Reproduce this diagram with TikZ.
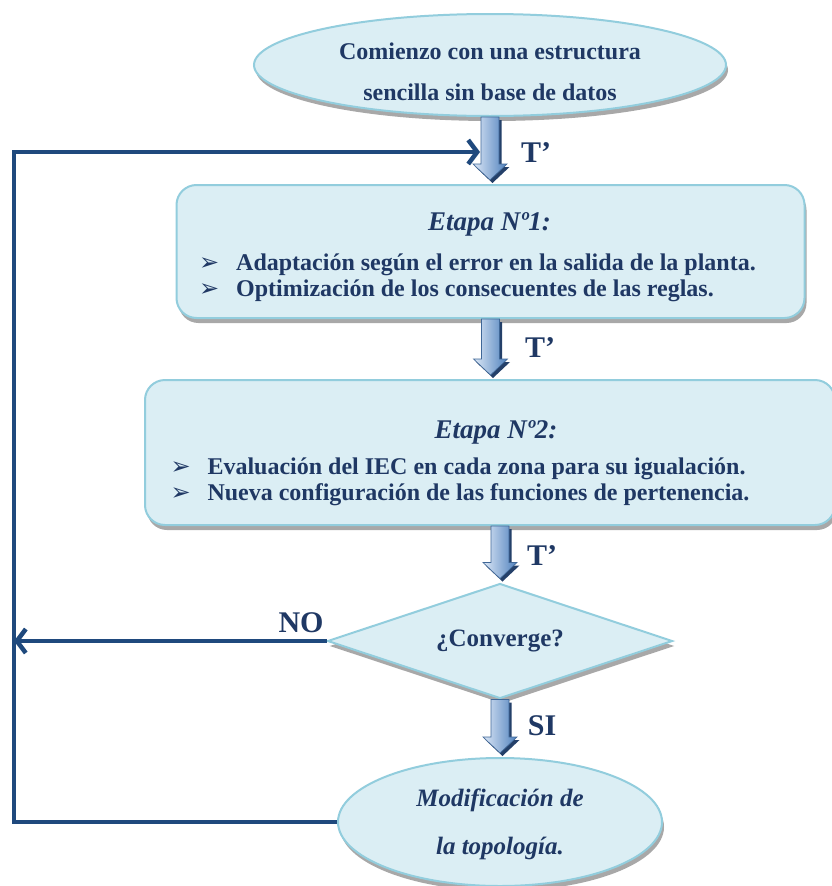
\documentclass[tikz,border=0pt]{standalone}
\usepackage{fontspec}
\setmainfont{Liberation Serif}
\newfontfamily\symfont{DejaVu Sans}
\usetikzlibrary{shapes.geometric,shadows,arrows.meta,calc}

\definecolor{txtblue}{RGB}{31,56,100}
\definecolor{lineblue}{RGB}{31,73,125}
\definecolor{boxfill}{RGB}{219,238,244}
\definecolor{boxedge}{RGB}{146,205,221}
\definecolor{arrlight}{RGB}{220,231,246}
\definecolor{arrblue}{RGB}{79,129,189}
\definecolor{arrdark}{RGB}{36,64,105}

\tikzset{
  shapebase/.style={fill=boxfill, draw=boxedge, line width=2pt, text=txtblue,
    inner sep=0pt, font=\bfseries\fontsize{24}{26}\selectfont,
    drop shadow={shadow xshift=2pt, shadow yshift=-5pt, fill=gray!75, opacity=0.9}},
  startend/.style={shapebase, ellipse},
  stagebox/.style={shapebase, rectangle, rounded corners=20pt},
  decision/.style={shapebase, diamond, aspect=3},
  loopline/.style={draw=lineblue, line width=4.5pt, -{Straight Barb[length=9pt,width=24pt]}},
  steplabel/.style={text=txtblue, inner sep=0pt, font=\bfseries\fontsize{30}{30}\selectfont}
}

% bullet and title of the stage boxes
\newcommand{\bul}{\makebox[37pt][l]{\symfont\fontsize{24}{24}\selectfont ➢}}
% #1 strut height, #2 shift to the right (twice the offset), #3 title
\newcommand{\stagetitle}[3]{\multicolumn{1}{c}{\hspace*{#2}\rule{0pt}{#1}\itshape\fontsize{27}{27}\selectfont #3}}

% shaded block arrow from #1 down to #2
\newcommand{\blockarrow}[2]{%
  \fill[arrdark] let \p1=(#1), \p2=(#2) in
    (\x1-6.5pt,\y1-3pt) -- (\x1+11.5pt,\y1-3pt) -- (\x1+11.5pt,\y2+13pt)
    -- (\x1+19.5pt,\y2+13pt) -- (\x1+2.5pt,\y2-3pt) -- (\x1-14.5pt,\y2+13pt)
    -- (\x1-6.5pt,\y2+13pt) -- cycle;
  \shade[left color=arrlight, right color=arrblue, draw=arrblue!80!black, line width=0.6pt]
    let \p1=(#1), \p2=(#2) in
    (\x1-9pt,\y1) -- (\x1+9pt,\y1) -- (\x1+9pt,\y2+16pt)
    -- (\x1+17pt,\y2+16pt) -- (\x1,\y2) -- (\x1-17pt,\y2+16pt)
    -- (\x1-9pt,\y2+16pt) -- cycle;
}

\begin{document}
\begin{tikzpicture}[x=1pt,y=-1pt]

\path[use as bounding box, fill=white] (0,0) rectangle (831,886);

% Start / end ellipses
\node[startend, minimum width=472pt, minimum height=102pt, align=center,
  font=\bfseries\fontsize{24}{41}\selectfont] (start) at (490,65)
  {\rule{0pt}{30pt}Comienzo con una estructura\\sencilla sin base de datos};

\node[startend, minimum width=324pt, minimum height=128pt, align=center,
  font=\bfseries\itshape\fontsize{25}{48}\selectfont] (modif) at (500,822)
  {\rule{0pt}{22pt}Modificación de\\la topología.};

% Stage boxes
\node[stagebox, minimum width=628pt, minimum height=133pt] (st1) at (490.5,251.5)
  {\begin{tabular}{@{}l@{}}
   \stagetitle{32pt}{24pt}{Etapa Nº1:}\\[14pt]
   \bul Adaptación según el error en la salida de la planta.\\
   \bul Optimización de los consecuentes de las reglas.
   \end{tabular}\rule{26pt}{0pt}};

\node[stagebox, minimum width=690pt, minimum height=145pt] (st2) at (490,452.5)
  {\begin{tabular}{@{}l@{}}
   \stagetitle{42pt}{72pt}{Etapa Nº2:}\\[10pt]
   \bul Evaluación del IEC en cada zona para su igualación.\\
   \bul Nueva configuración de las funciones de pertenencia.
   \end{tabular}\rule{60pt}{0pt}};

% Decision
\node[decision, minimum width=345pt, minimum height=115pt,
  font=\bfseries\fontsize{25}{25}\selectfont] (conv) at (500,641) {¿Converge?};

% Block arrows
\blockarrow{start.south}{[yshift=4pt]st1.north}
\blockarrow{st1.south}{[yshift=4pt]st2.north}
\blockarrow{conv.north |- st2.south}{[yshift=4pt]conv.north}
\blockarrow{conv.south}{[yshift=4pt]modif.north}

\node[steplabel] (t1) at (536,153) {T’};
\node[steplabel] (t2) at (540,348) {T’};
\node[steplabel] (t3) at (542,556) {T’};
\node[steplabel] (si) at (542,726) {SI};
\node[steplabel] (no) at (301,623) {NO};

% Feedback loop
\coordinate (leftx) at (14,0);
\coordinate (fbin) at (480,152);
\draw[loopline] (modif.west) -| (leftx |- fbin) -- (fbin);
\draw[loopline] (conv.west) -- (conv.west -| leftx);

\end{tikzpicture}
\end{document}
